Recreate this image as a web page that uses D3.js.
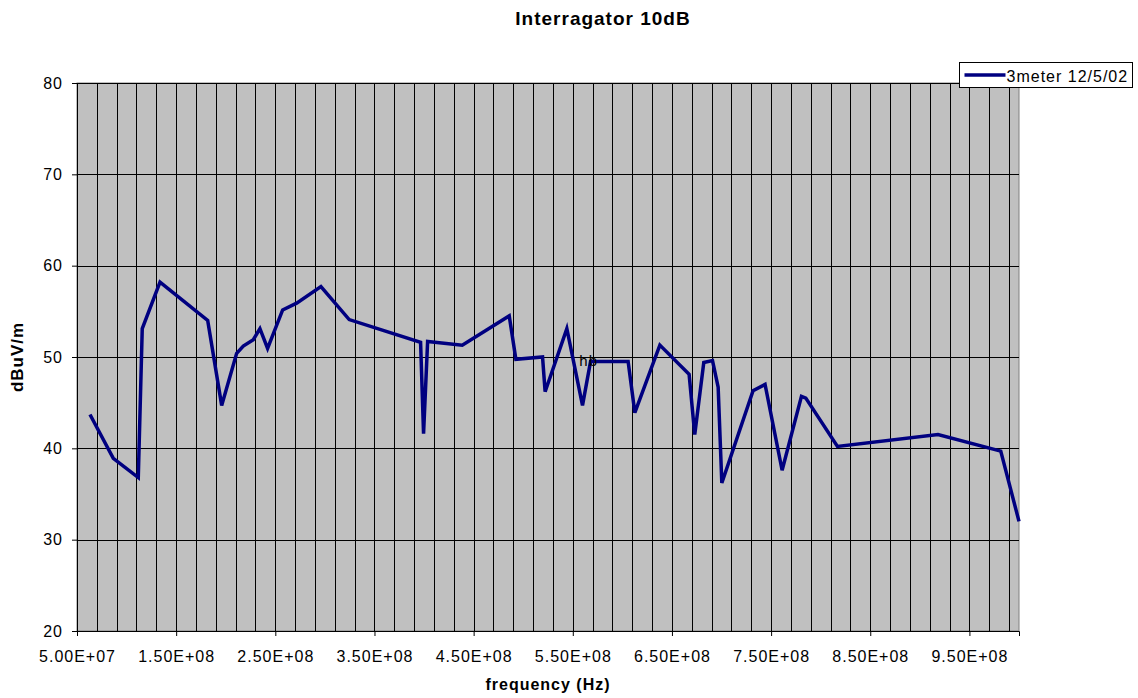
<!DOCTYPE html>
<html>
<head>
<meta charset="utf-8">
<script src="https://cdn.jsdelivr.net/npm/d3@7"></script>
<style>
  body { margin: 0; background: #fff; }
  text { font-family: "Liberation Sans", Arial, sans-serif; fill: #000; }
</style>
</head>
<body>
<script>
// readings for 3meter 12/5/02 (frequency in Hz, level in dBuV/m)
const freqs = [6.31e7, 8.66e7, 1.118e8, 1.158e8, 1.337e8, 1.818e8, 1.959e8, 2.11e8, 2.177e8, 2.278e8,
  2.345e8, 2.422e8, 2.574e8, 2.715e8, 2.96e8, 3.245e8, 3.965e8, 3.995e8, 4.036e8, 4.385e8,
  4.859e8, 4.926e8, 5.195e8, 5.221e8, 5.44e8, 5.598e8, 5.679e8, 6.058e8, 6.126e8, 6.378e8,
  6.673e8, 6.73e8, 6.821e8, 6.909e8, 6.966e8, 7.003e8, 7.318e8, 7.439e8, 7.611e8, 7.806e8,
  7.85e8, 8.169e8, 9.183e8, 9.816e8, 1.0e9];
const levels = [43.7, 38.9, 36.8, 53.1, 58.2, 54.0, 44.7, 50.4, 51.2, 51.9,
  53.1, 50.95, 55.15, 55.9, 57.7, 54.1, 51.6, 41.6, 51.7, 51.3,
  54.5, 49.75, 50.0, 46.2, 53.1, 44.7, 49.5, 49.5, 43.9, 51.3,
  48.1, 41.5, 49.4, 49.6, 46.7, 36.2, 46.3, 47.0, 37.6, 45.7,
  45.5, 40.2, 41.5, 39.7, 32.0];
const xTicks = [5e7, 1.5e8, 2.5e8, 3.5e8, 4.5e8, 5.5e8, 6.5e8, 7.5e8, 8.5e8, 9.5e8];
const yTicks = [20, 30, 40, 50, 60, 70, 80];
const seriesName = "3meter 12/5/02";
const note = { f: 5.66e8, v: 49.7, label: "hb" };

const width = 1138, height = 698;
const margin = { top: 83, right: 119, bottom: 67, left: 77 };

const svg = d3.select("body").append("svg")
    .attr("width", width)
    .attr("height", height);

const x = d3.scaleLinear()
    .domain([5e7, 1e9])
    .range([margin.left, width - margin.right]);
const y = d3.scaleLinear()
    .domain([20, 80])
    .range([height - margin.bottom, margin.top]);

// plot background
svg.append("rect")
    .attr("x", x(5e7)).attr("y", y(80))
    .attr("width", x(1e9) - x(5e7)).attr("height", y(20) - y(80))
    .attr("fill", "#c0c0c0")
    .attr("stroke", "#808080");

// vertical grid every 2E7
svg.append("g").selectAll("line")
    .data(d3.range(7e7, 1e9, 2e7))
    .enter().append("line")
    .attr("x1", d => Math.round(x(d)) + 0.5).attr("x2", d => Math.round(x(d)) + 0.5)
    .attr("y1", y(80)).attr("y2", y(20))
    .attr("stroke", "#000").attr("stroke-width", 1);

// horizontal grid
svg.append("g").selectAll("line")
    .data(yTicks.slice(1))
    .enter().append("line")
    .attr("x1", x(5e7)).attr("x2", x(1e9))
    .attr("y1", d => Math.round(y(d)) + 0.5).attr("y2", d => Math.round(y(d)) + 0.5)
    .attr("stroke", "#000").attr("stroke-width", 1);

// axes
const fmt = d => d.toExponential(2).toUpperCase().replace(/E\+(\d)$/, "E+0$1");
const xAxis = svg.append("g")
    .attr("transform", `translate(0,${y(20)})`)
    .call(d3.axisBottom(x).tickValues(xTicks).tickSizeOuter(0).tickSize(5).tickPadding(15).tickFormat(fmt));
xAxis.select(".domain").attr("stroke", "#000");
xAxis.selectAll("text")
    .attr("font-size", 16).attr("letter-spacing", 1)
    .attr("font-family", "Liberation Sans, Arial, sans-serif");

const yAxis = svg.append("g")
    .attr("transform", `translate(${x(5e7)},0)`)
    .call(d3.axisLeft(y).tickValues(yTicks).tickSizeOuter(0).tickSize(5).tickPadding(9));
yAxis.select(".domain").attr("stroke", "#000");
yAxis.selectAll("text")
    .attr("font-size", 16).attr("letter-spacing", 1)
    .attr("font-family", "Liberation Sans, Arial, sans-serif");

// data line
const pts = freqs.map((f, i) => [f, levels[i]]);
svg.append("path")
    .datum(pts)
    .attr("fill", "none")
    .attr("stroke", "#000080")
    .attr("stroke-width", 3.5)
    .attr("stroke-linejoin", "miter")
    .attr("d", d3.line().x(d => x(d[0])).y(d => y(d[1])));

svg.append("text")
    .attr("x", x(note.f)).attr("y", y(note.v) + 6)
    .attr("text-anchor", "middle")
    .attr("font-size", 15).attr("letter-spacing", 1)
    .attr("fill", "#222")
    .text(note.label);

// titles
svg.append("text")
    .attr("x", 603).attr("y", 25)
    .attr("text-anchor", "middle")
    .attr("font-size", 19).attr("font-weight", "bold").attr("letter-spacing", 1)
    .text("Interragator 10dB");

svg.append("text")
    .attr("x", (x(5e7) + x(1e9)) / 2).attr("y", 690)
    .attr("text-anchor", "middle")
    .attr("font-size", 16).attr("font-weight", "bold").attr("letter-spacing", 1)
    .text("frequency (Hz)");

svg.append("text")
    .attr("transform", `translate(23,${(y(20) + y(80)) / 2}) rotate(-90)`)
    .attr("text-anchor", "middle")
    .attr("font-size", 17).attr("font-weight", "bold").attr("letter-spacing", 1)
    .text("dBuV/m");

// legend
const lg = svg.append("g").attr("transform", "translate(959.5,62.5)");
lg.append("rect")
    .attr("width", 173).attr("height", 25)
    .attr("fill", "#fff").attr("stroke", "#000");
lg.append("line")
    .attr("x1", 5).attr("x2", 46).attr("y1", 12.5).attr("y2", 12.5)
    .attr("stroke", "#000080").attr("stroke-width", 3.5);
lg.append("text")
    .attr("x", 47).attr("y", 19.5)
    .attr("font-size", 16).attr("letter-spacing", 1)
    .text(seriesName);
</script>
</body>
</html>
